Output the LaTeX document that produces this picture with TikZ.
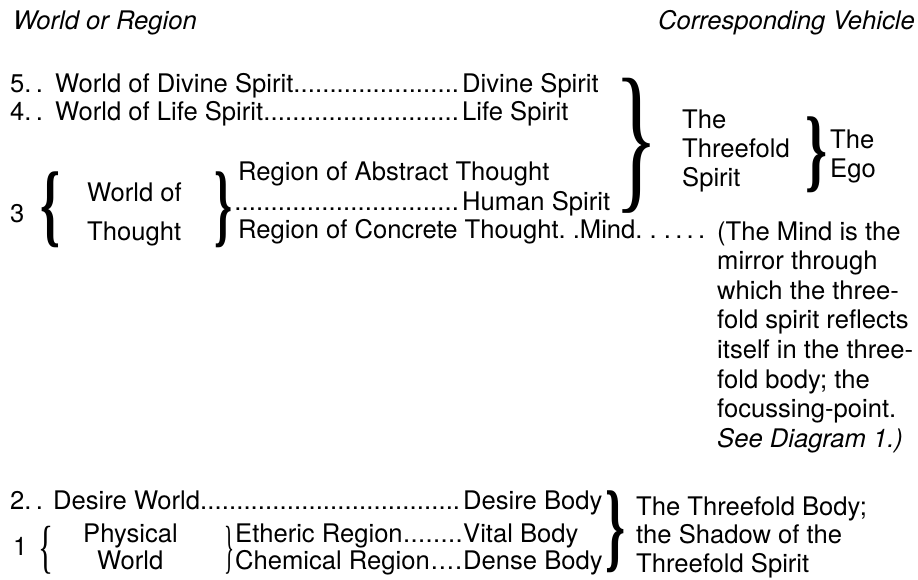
\documentclass[tikz,border=0pt]{standalone}
\usepackage{fontspec}
\usepackage{graphicx}
\setmainfont{TeX Gyre Heros}
\newfontfamily\bracefont{Liberation Serif}
\newcommand{\dotlead}{\xleaders\hbox{.}\hfill}
\newcommand{\tallbrace}[4][]{\resizebox*{#2pt}{#3pt}{\bracefont#1#4}}
\begin{document}
\begin{tikzpicture}[x=1pt,y=-1pt,
  txt/.style={anchor=base west,inner sep=0pt,font=\fontsize{25.6}{30}\selectfont},
  hd/.style={txt,font=\fontsize{25.6}{30}\selectfont\itshape},
  brc/.style={anchor=west,inner sep=0pt}]
\useasboundingbox (0,0) rectangle (918,579);
% the two column heads
\node[hd] (hworld) at (13,29) {World or Region};
\node[hd,anchor=base east] (hveh) at (915,29) {Corresponding Vehicle};
% worlds 5 and 4
\node[txt] (n5) at (10,92) {5.\,.};
\node[txt] (w5) at (55,92) {\makebox[404pt][l]{World of Divine Spirit\dotlead}};
\node[txt] (v5) at (462,92) {Divine Spirit};
\node[txt] (n4) at (10,120) {4.\,.};
\node[txt] (w4) at (55,120) {\makebox[404pt][l]{World of Life Spirit\dotlead}};
\node[txt] (v4) at (462,120) {Life Spirit};
% world 3 and its two regions
\node[txt] (n3) at (10,222) {3};
\node[brc] (b3) at (40,210) {\tallbrace[\bfseries]{20}{76}{\{}};
\node[txt] (w3a) at (87,201) {World of};
\node[txt] (w3b) at (87,240) {Thought};
\node[brc] (b3r) at (214,210) {\tallbrace[\bfseries]{18}{76}{\}}};
\node[txt] (rabs) at (238,180) {Region of Abstract Thought};
\node[txt] (dhum) at (234,210) {\makebox[225pt][l]{\dotlead}};
\node[txt] (vhum) at (462,210) {Human Spirit};
\node[txt] (rcon) at (238,238) {Region of Concrete Thought.\ .Mind.\ .\ .\,.\,.\,.};
% the threefold spirit and the ego
\node[brc] (bsp) at (614,146) {\tallbrace{44}{135}{\}}};
\node[txt] (ts1) at (682,128) {The};
\node[txt] (ts2) at (682,157) {Threefold};
\node[txt] (ts3) at (682,186) {Spirit};
\node[brc] (bego) at (805,155) {\tallbrace[\bfseries]{22}{76}{\}}};
\node[txt] (ego1) at (830,148) {The};
\node[txt] (ego2) at (830,177) {Ego};
% note on the mind
\foreach \t [count=\i] in {{(The Mind is the},{mirror through},{which the three-},
    {fold spirit reflects},{itself in the three-},{fold body; the},
    {focussing-point.},{\textit{See Diagram 1.)}}}
  \node[txt] (note\i) at (717,{240+29.6*(\i-1)}) {\t};
% worlds 2 and 1
\node[txt] (n2) at (10,509) {2.\,.};
\node[txt] (w2) at (53,509) {\makebox[407pt][l]{Desire World\dotlead}};
\node[txt] (v2) at (463,509) {Desire Body};
\node[txt] (n1) at (13,555) {1};
\node[brc] (b1) at (38,550) {\tallbrace{15}{48}{\{}};
\node[txt] (w1a) at (83,542) {Physical};
\node[txt] (w1b) at (97,569) {World};
\node[brc] (b1r) at (224,550) {\tallbrace{10}{48}{\}}};
\node[txt] (reth) at (235,542) {\makebox[228pt][l]{Etheric Region\dotlead}};
\node[txt] (vvit) at (463,542) {Vital Body};
\node[txt] (rche) at (235,569) {\makebox[228pt][l]{Chemical Region\dotlead}};
\node[txt] (vden) at (463,569) {Dense Body};
% the threefold body
\node[brc] (bbod) at (605,532) {\tallbrace[\bfseries]{20}{82}{\}}};
\node[txt] (tb1) at (636,515) {The Threefold Body;};
\node[txt] (tb2) at (636,543) {the Shadow of the};
\node[txt] (tb3) at (636,572) {Threefold Spirit};
\end{tikzpicture}
\end{document}
